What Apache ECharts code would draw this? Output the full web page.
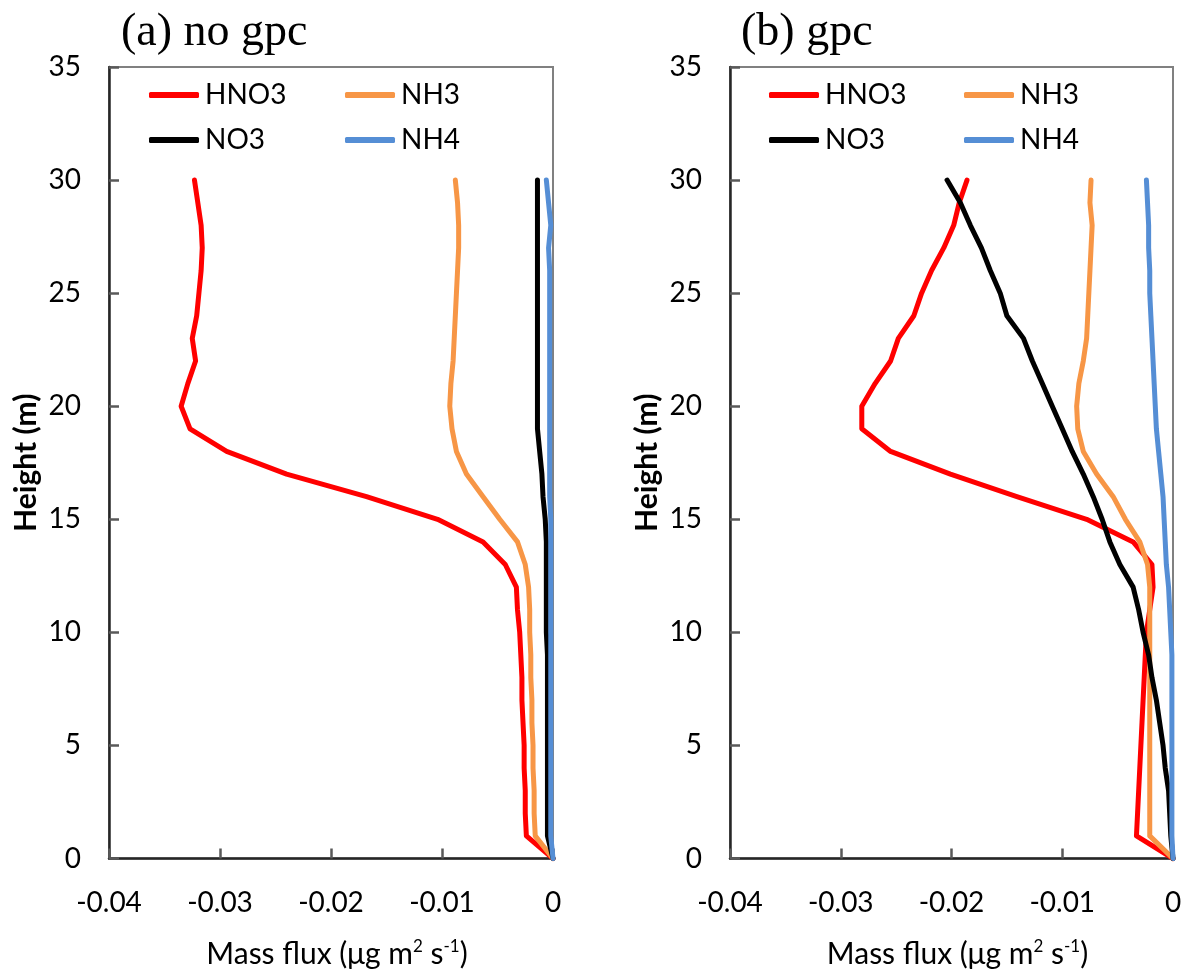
<!DOCTYPE html>
<html>
<head>
<meta charset="utf-8">
<script src="https://cdn.jsdelivr.net/npm/echarts@6/dist/echarts.min.js"></script>
<style>
  html, body { margin: 0; padding: 0; background: #fff; }
  #chart { width: 1195px; height: 974px; }
</style>
</head>
<body>
<div id="chart"></div>
<script>
// heights (m), from ground up
var HEIGHTS = [0, 1, 2, 3, 4, 5, 6, 7, 8, 9, 10, 11, 12, 13, 14, 15, 16, 17, 18, 19, 20,
  21, 22, 23, 24, 25, 26, 27, 28, 29, 30];

// (a) no gpc — mass flux per height
var A_HNO3 = [0, -0.0024, -0.0025, -0.0025, -0.0026, -0.0026, -0.0027, -0.0028, -0.0028, -0.0029, -0.0030,
  -0.0032, -0.0033, -0.0043, -0.0063, -0.0104, -0.0168, -0.0240, -0.0294, -0.0327, -0.0335,
  -0.0329, -0.0322, -0.0325, -0.0321, -0.0319, -0.0317, -0.0316, -0.0317, -0.0320, -0.0323];
var A_NH3 = [0, -0.0016, -0.0017, -0.0017, -0.0018, -0.0018, -0.0019, -0.0019, -0.0020, -0.0020, -0.0021,
  -0.0021, -0.0022, -0.0025, -0.0032, -0.0048, -0.0063, -0.0078, -0.0087, -0.0091, -0.0093,
  -0.0092, -0.0090, -0.0089, -0.0088, -0.0087, -0.0086, -0.0085, -0.0085, -0.0086, -0.0088];
var A_NO3 = [0, -0.0005, -0.0005, -0.0005, -0.0005, -0.0005, -0.0005, -0.0005, -0.0005, -0.0005, -0.0006,
  -0.0006, -0.0006, -0.0006, -0.0006, -0.0007, -0.0009, -0.0010, -0.0012, -0.0014, -0.0014,
  -0.0014, -0.0014, -0.0014, -0.0014, -0.0014, -0.0014, -0.0014, -0.0014, -0.0014, -0.0014];
var A_NH4 = [0, -0.0002, -0.0002, -0.0002, -0.0002, -0.0002, -0.0002, -0.0002, -0.0002, -0.0002, -0.0002,
  -0.0002, -0.0002, -0.0002, -0.0002, -0.0002, -0.0003, -0.0003, -0.0003, -0.0003, -0.0003,
  -0.0003, -0.0003, -0.0003, -0.0003, -0.0003, -0.0003, -0.0004, -0.0002, -0.0004, -0.0006];

// (b) gpc
var B_HNO3 = [0, -0.0033, -0.0032, -0.0031, -0.0030, -0.0029, -0.0028, -0.0027, -0.0026, -0.0025, -0.0024,
  -0.0021, -0.0018, -0.0019, -0.0036, -0.0078, -0.0141, -0.0201, -0.0255, -0.0281, -0.0281,
  -0.0269, -0.0255, -0.0248, -0.0234, -0.0227, -0.0218, -0.0207, -0.0198, -0.0193, -0.0186];
var B_NH3 = [0, -0.0021, -0.0021, -0.0021, -0.0021, -0.0021, -0.0021, -0.0021, -0.0021, -0.0021, -0.0021,
  -0.0021, -0.0021, -0.0023, -0.0030, -0.0043, -0.0054, -0.0069, -0.0081, -0.0086, -0.0087,
  -0.0085, -0.0081, -0.0078, -0.0077, -0.0076, -0.0075, -0.0074, -0.0073, -0.0075, -0.0074];
var B_NO3 = [0, -0.0002, -0.0003, -0.0004, -0.0007, -0.0009, -0.0012, -0.0015, -0.0019, -0.0022, -0.0027,
  -0.0031, -0.0036, -0.0048, -0.0057, -0.0064, -0.0072, -0.0081, -0.0091, -0.0100, -0.0109,
  -0.0118, -0.0127, -0.0135, -0.0150, -0.0156, -0.0165, -0.0173, -0.0183, -0.0192, -0.0204];
var B_NH4 = [0, -0.0001, -0.0001, -0.0001, -0.0001, -0.0001, -0.0001, -0.0001, -0.0001, -0.0001, -0.0002,
  -0.0003, -0.0004, -0.0006, -0.0007, -0.0008, -0.0009, -0.0011, -0.0013, -0.0015, -0.0016,
  -0.0017, -0.0018, -0.0019, -0.0020, -0.0021, -0.0021, -0.0022, -0.0022, -0.0023, -0.0024];

var NAMES = ['HNO3', 'NH3', 'NO3', 'NH4'];
var COLORS = ['#ff0000', '#f79646', '#000000', '#558ed5'];
var X_TICKS = [-0.04, -0.03, -0.02, -0.01, 0];

var FONT = 'Lato';

function pairs(vals) {
  return vals.map(function (v, i) { return [v, HEIGHTS[i]]; });
}

function xAxisFor(idx) {
  return {
    gridIndex: idx,
    type: 'value',
    min: X_TICKS[0],
    max: X_TICKS[X_TICKS.length - 1],
    interval: 0.01,
    name: 'Mass flux (μg m{sup|2} s{sup|-1})',
    nameLocation: 'middle',
    nameGap: 80,
    nameTextStyle: {
      fontFamily: FONT, fontSize: 30, color: '#000', padding: [0, 0, 0, 12],
      rich: { sup: { fontFamily: FONT, fontSize: 17, color: '#000', verticalAlign: 'top', padding: [0, 0, 14, 0] } }
    },
    axisLine: { show: true, onZero: false, lineStyle: { color: '#262626', width: 2.5 } },
    axisTick: { show: true, inside: true, length: 10, lineStyle: { color: '#595959', width: 2.5 } },
    axisLabel: {
      fontFamily: FONT, fontSize: 28, color: '#000', margin: 30,
      formatter: function (v) { return v === 0 ? '0' : v.toFixed(2); }
    },
    splitLine: { show: false }
  };
}

function yAxisFor(idx) {
  return {
    gridIndex: idx,
    type: 'value',
    min: 0,
    max: 35,
    interval: 5,
    name: 'Height (m)',
    nameLocation: 'middle',
    nameGap: 68,
    nameTextStyle: { fontFamily: FONT, fontSize: 30, fontWeight: 'bold', color: '#000' },
    axisLine: { show: true, onZero: false, lineStyle: { color: '#262626', width: 2.5 } },
    axisTick: { show: true, inside: true, length: 10, lineStyle: { color: '#595959', width: 2.5 } },
    axisLabel: { fontFamily: FONT, fontSize: 28, color: '#000', margin: 28 },
    splitLine: { show: false }
  };
}

function seriesFor(idx, sets) {
  return sets.map(function (vals, k) {
    return {
      name: NAMES[k],
      type: 'line',
      xAxisIndex: idx,
      yAxisIndex: idx,
      data: pairs(vals),
      showSymbol: false,
      symbol: 'none',
      clip: false,
      color: COLORS[k],
      lineStyle: { width: 5, color: COLORS[k], cap: 'round', join: 'round' },
      z: 2 + k
    };
  });
}

// one legend per item so the columns line up as in the picture
function legendItem(name, left, top) {
  return {
    data: [name],
    left: left,
    top: top,
    icon: 'roundRect',
    itemWidth: 50,
    itemHeight: 6,
    padding: 0,
    selectedMode: false,
    textStyle: { fontFamily: FONT, fontSize: 28, color: '#000', padding: [0, 0, 0, 1] }
  };
}

var legends = [];
[[149, 345], [769, 964]].forEach(function (cols) {
  legends.push(legendItem('HNO3', cols[0], 81));
  legends.push(legendItem('NH3', cols[1], 81));
  legends.push(legendItem('NO3', cols[0], 126));
  legends.push(legendItem('NH4', cols[1], 126));
});

var chart = echarts.init(document.getElementById('chart'));
chart.setOption({
  backgroundColor: '#fff',
  animation: false,
  title: [
    { text: '(a) no gpc', left: 121, top: 10, padding: 0,
      textStyle: { fontFamily: 'Liberation Serif', fontSize: 46, fontWeight: 'normal', color: '#000' } },
    { text: '(b) gpc', left: 741, top: 10, padding: 0,
      textStyle: { fontFamily: 'Liberation Serif', fontSize: 46, fontWeight: 'normal', color: '#000' } }
  ],
  legend: legends,
  grid: [
    { left: 109, top: 67, width: 444, height: 792, show: true, borderColor: '#808080', borderWidth: 2 },
    { left: 730, top: 67, width: 443, height: 792, show: true, borderColor: '#808080', borderWidth: 2 }
  ],
  xAxis: [xAxisFor(0), xAxisFor(1)],
  yAxis: [yAxisFor(0), yAxisFor(1)],
  series: seriesFor(0, [A_HNO3, A_NH3, A_NO3, A_NH4])
    .concat(seriesFor(1, [B_HNO3, B_NH3, B_NO3, B_NH4]))
});
</script>
</body>
</html>
